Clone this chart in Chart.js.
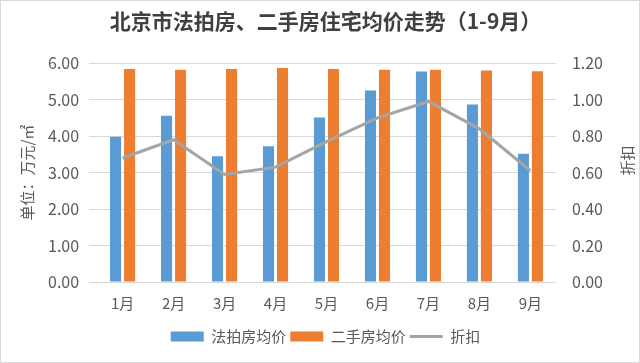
<!DOCTYPE html>
<html>
<head>
<meta charset="utf-8">
<script src="https://cdn.jsdelivr.net/npm/chart.js@4/dist/chart.umd.min.js"></script>
<style>
  html, body { margin: 0; padding: 0; background: #fff; }
  .wrap { position: relative; width: 638px; height: 361px; border: 1px solid #d9d9d9; }
</style>
</head>
<body>
<div class="wrap"><canvas id="graph1"></canvas></div>
<script>
const months      = ['1月', '2月', '3月', '4月', '5月', '6月', '7月', '8月', '9月'];
const auctionAvg  = [3.98, 4.56, 3.45, 3.72, 4.51, 5.25, 5.77, 4.87, 3.52];
const resaleAvg   = [5.84, 5.82, 5.84, 5.87, 5.84, 5.82, 5.82, 5.80, 5.78];
const discount    = [0.68, 0.78, 0.59, 0.63, 0.77, 0.90, 0.99, 0.84, 0.61];

const font = "'Noto Sans CJK SC', 'Noto Sans', sans-serif";
const grey = '#595959';

// right axis title reads bottom-to-top like the left one
const rightTitle = {
  id: 'rightTitle',
  afterDraw(chart) {
    const s = chart.scales.y1;
    const ctx = chart.ctx;
    ctx.save();
    ctx.translate(s.right - 10, (s.top + s.bottom) / 2 - 12);
    ctx.rotate(-Math.PI / 2);
    ctx.font = '15px ' + font;
    ctx.fillStyle = grey;
    ctx.textAlign = 'center';
    ctx.textBaseline = 'middle';
    ctx.fillText('折扣', 0, 0);
    ctx.restore();
  }
};

const initGraphix = () => {
  const ctx = document.querySelector('#graph1');
  const graph = new Chart(ctx, {
    type: 'bar',
    data: {
      labels: months,
      datasets: [{
        label: '法拍房均价',
        data: auctionAvg,
        backgroundColor: '#5B9BD5',
        pointStyle: 'rect',
        yAxisID: 'y',
        order: 2
      }, {
        label: '二手房均价',
        data: resaleAvg,
        backgroundColor: '#ED7D31',
        pointStyle: 'rect',
        yAxisID: 'y',
        order: 2
      }, {
        type: 'line',
        label: '折扣',
        data: discount,
        borderColor: '#A5A5A5',
        backgroundColor: '#A5A5A5',
        borderWidth: 3,
        pointRadius: 0,
        pointStyle: 'line',
        yAxisID: 'y1',
        order: 1
      }]
    },
    options: {
      responsive: true,
      maintainAspectRatio: false,
      animation: false,
      datasets: {
        bar: { categoryPercentage: 0.55, barPercentage: 0.79 }
      },
      layout: { padding: { left: 13, right: 2, top: 5, bottom: 8 } },
      plugins: {
        title: {
          display: true,
          text: '北京市法拍房、二手房住宅均价走势（1-9月）',
          color: '#404040',
          font: { family: font, size: 21, weight: 'bold' },
          padding: { top: 2, bottom: 30 }
        },
        legend: {
          position: 'bottom',
          labels: {
            color: grey,
            font: { family: font, size: 15 },
            usePointStyle: true,
            pointStyleWidth: 33,
            boxHeight: 10,
            padding: 4,
            sort: (a, b) => a.datasetIndex - b.datasetIndex
          }
        },
        tooltip: { enabled: false }
      },
      scales: {
        x: {
          grid: { display: false },
          border: { color: '#d9d9d9' },
          ticks: { color: grey, padding: 4, font: { family: font, size: 15 } },
          afterFit: scale => { scale.height += 9; }
        },
        y: {
          min: 0,
          max: 6,
          position: 'left',
          grid: { color: '#d9d9d9' },
          border: { display: false },
          ticks: {
            stepSize: 1,
            color: grey,
            padding: 10,
            font: { family: font, size: 16 },
            callback: v => v.toFixed(2)
          },
          title: {
            display: true,
            text: '单位：万元/㎡',
            color: grey,
            font: { family: font, size: 15 },
            padding: { top: 4, bottom: 2 }
          }
        },
        y1: {
          min: 0,
          max: 1.2,
          position: 'right',
          grid: { display: false },
          border: { display: false },
          ticks: {
            stepSize: 0.2,
            color: grey,
            padding: 8,
            font: { family: font, size: 16 },
            callback: v => v.toFixed(2)
          },
          title: {
            display: true,
            text: '折扣',
            color: 'rgba(0,0,0,0)',
            font: { family: font, size: 15 }
          }
        }
      }
    },
    plugins: [rightTitle]
  });
  return graph;
};
initGraphix();
</script>
</body>
</html>
